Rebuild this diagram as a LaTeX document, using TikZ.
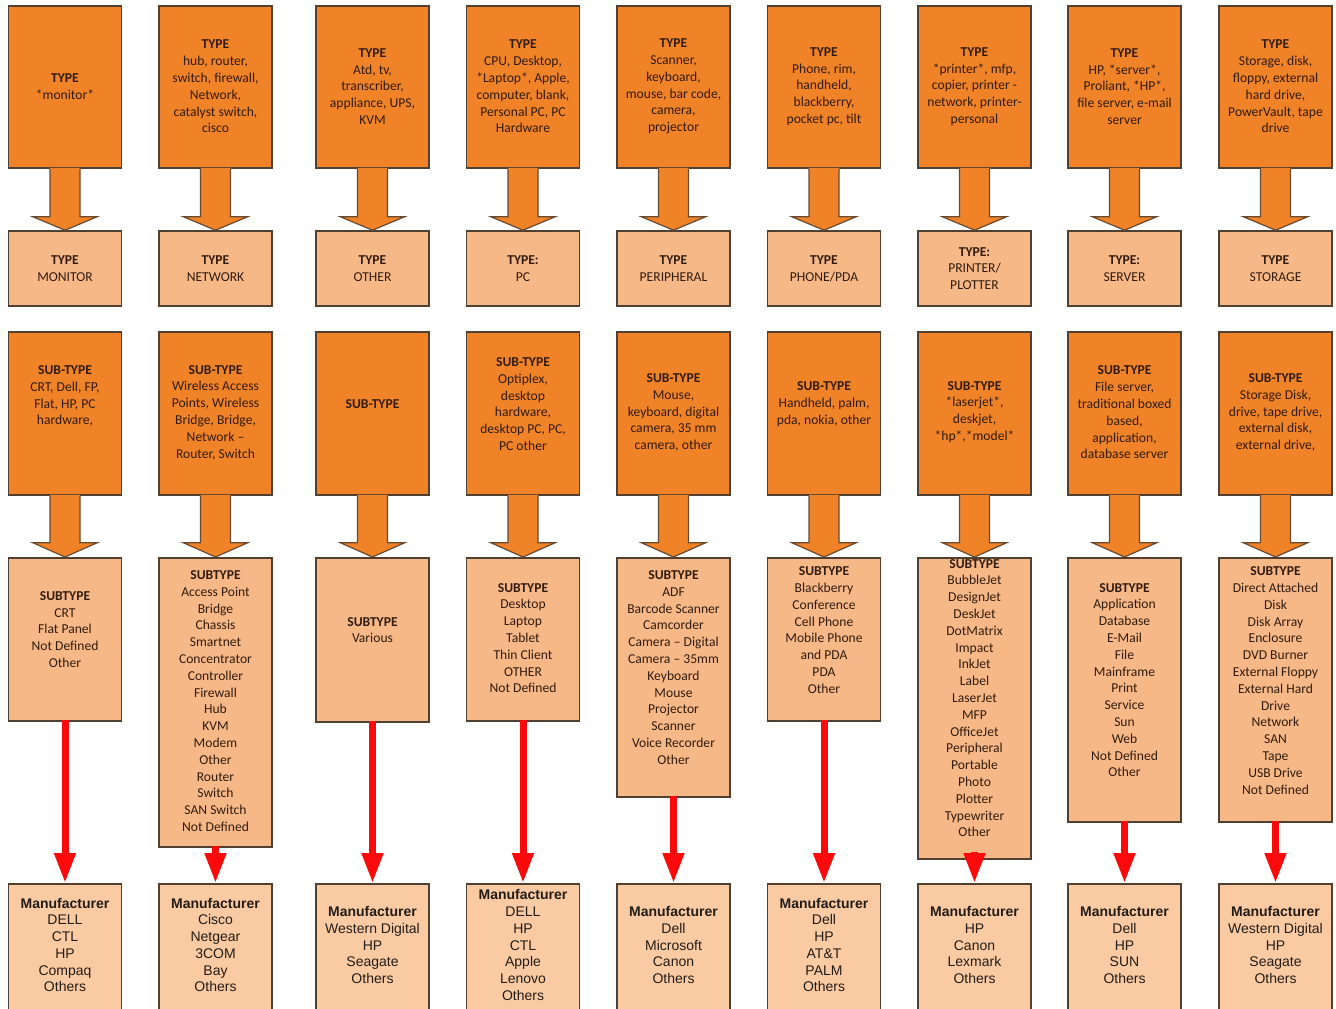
\documentclass[tikz,border=0pt]{standalone}
\usepackage{fontspec}
\setmainfont{Carlito}
\newfontfamily\arialf{Liberation Sans}
\usetikzlibrary{arrows.meta,calc}
\definecolor{dorange}{RGB}{240,130,40}
\definecolor{lorange}{RGB}{247,184,136}
\definecolor{morange}{RGB}{250,203,163}
\definecolor{bordc}{RGB}{80,64,50}
\definecolor{txtc}{RGB}{50,28,14}
\definecolor{mtxtc}{RGB}{35,28,24}
\definecolor{redc}{RGB}{250,10,10}
\tikzset{
  bx/.style={draw=bordc, line width=0.8pt, minimum width=56.5pt, inner sep=0pt},
  topbox/.style={bx, fill=dorange, minimum height=81pt},
  typebox/.style={bx, fill=lorange, minimum height=37.5pt},
  subbox/.style={bx, fill=dorange, minimum height=81.5pt},
  stbox/.style={bx, fill=lorange, anchor=north},
  manbox/.style={bx, fill=morange, minimum height=73pt},
  txt/.style={align=center, font=\fontsize{6.8}{8.4}\selectfont, text=txtc, inner sep=0pt},
  mtxt/.style={align=center, font=\arialf\fontsize{7}{8.35}\selectfont, text=mtxtc, inner sep=0pt},
  bigfill/.style={fill=dorange},
  bigline/.style={draw=bordc!85!dorange, line width=0.6pt, line join=miter},
  redarrow/.style={draw=redc, line width=3.5pt, -{Triangle[width=10pt,length=15pt]}}
}
% #1 from node, #2 to node, #3 shaft length (px), #4 head half width
\newcommand{\fatarrow}[4]{%
  \fill[bigfill] ($(#1.south)+(-15,-1)$) -- ($(#1.south)+(-15,#3)$) -- ($(#1.south)+(-#4,#3)$)
   -- (#2.north) -- ($(#1.south)+(#4,#3)$) -- ($(#1.south)+(15,#3)$) -- ($(#1.south)+(15,-1)$) -- cycle;
  \draw[bigline] ($(#1.south)+(-15,0)$) -- ($(#1.south)+(-15,#3)$) -- ($(#1.south)+(-#4,#3)$)
   -- (#2.north) -- ($(#1.south)+(#4,#3)$) -- ($(#1.south)+(15,#3)$) -- ($(#1.south)+(15,0)$);}
\begin{document}
\begin{tikzpicture}[x=0.5pt,y=-0.5pt]
\useasboundingbox (0,0) rectangle (1336,1008);
\clip (0,0) rectangle (1336,1008);

% ---------- Row 1: TYPE keyword boxes ----------
\node[topbox] (a1) at (65,87) {};
\node[topbox] (a2) at (215.5,87) {};
\node[topbox] (a3) at (372.5,87) {};
\node[topbox] (a4) at (523,87) {};
\node[topbox] (a5) at (673.5,87) {};
\node[topbox] (a6) at (824,87) {};
\node[topbox] (a7) at (974.5,87) {};
\node[topbox] (a8) at (1124.5,87) {};
\node[topbox] (a9) at (1275.5,87) {};
\node[txt] (a1t) at (65,86.5) {\textbf{TYPE}\\*monitor*};
\node[txt] (a2t) at (215.5,86.5) {\textbf{TYPE}\\hub, router,\\switch, firewall,\\Network,\\catalyst switch,\\cisco};
\node[txt] (a3t) at (372.5,86.5) {\textbf{TYPE}\\Atd, tv,\\transcriber,\\appliance, UPS,\\KVM};
\node[txt] (a4t) at (523,86.5) {\textbf{TYPE}\\CPU, Desktop,\\*Laptop*, Apple,\\computer, blank,\\Personal PC, PC\\Hardware};
\node[txt] (a5t) at (673.5,86.5) {\textbf{TYPE}\\Scanner,\\keyboard,\\mouse, bar code,\\camera,\\projector};
\node[txt] (a6t) at (824,86.5) {\textbf{TYPE}\\Phone, rim,\\handheld,\\blackberry,\\pocket pc, tilt};
\node[txt] (a7t) at (974.5,86.5) {\textbf{TYPE}\\*printer*, mfp,\\copier, printer -\\network, printer-\\personal};
\node[txt] (a8t) at (1124.5,86.5) {\textbf{TYPE}\\HP, *server*,\\Proliant, *HP*,\\file server, e-mail\\server};
\node[txt] (a9t) at (1275.5,86.5) {\textbf{TYPE}\\Storage, disk,\\floppy, external\\hard drive,\\PowerVault, tape\\drive};

% ---------- Row 2: TYPE boxes ----------
\node[typebox] (b1) at (65,268.5) {};
\node[typebox] (b2) at (215.5,268.5) {};
\node[typebox] (b3) at (372.5,268.5) {};
\node[typebox] (b4) at (523,268.5) {};
\node[typebox] (b5) at (673.5,268.5) {};
\node[typebox] (b6) at (824,268.5) {};
\node[typebox] (b7) at (974.5,268.5) {};
\node[typebox] (b8) at (1124.5,268.5) {};
\node[typebox] (b9) at (1275.5,268.5) {};
\node[txt] (b1t) at (65,268.5) {\textbf{TYPE}\\MONITOR};
\node[txt] (b2t) at (215.5,268.5) {\textbf{TYPE}\\NETWORK};
\node[txt] (b3t) at (372.5,268.5) {\textbf{TYPE}\\OTHER};
\node[txt] (b4t) at (523,268.5) {\textbf{TYPE:}\\PC};
\node[txt] (b5t) at (673.5,268.5) {\textbf{TYPE}\\PERIPHERAL};
\node[txt] (b6t) at (824,268.5) {\textbf{TYPE}\\PHONE/PDA};
\node[txt] (b7t) at (974.5,268.5) {\textbf{TYPE:}\\PRINTER/\\PLOTTER};
\node[txt] (b8t) at (1124.5,268.5) {\textbf{TYPE:}\\SERVER};
\node[txt] (b9t) at (1275.5,268.5) {\textbf{TYPE}\\STORAGE};

% ---------- Row 3: SUB-TYPE keyword boxes ----------
\node[subbox] (c1) at (65,413.5) {};
\node[subbox] (c2) at (215.5,413.5) {};
\node[subbox] (c3) at (372.5,413.5) {};
\node[subbox] (c4) at (523,413.5) {};
\node[subbox] (c5) at (673.5,413.5) {};
\node[subbox] (c6) at (824,413.5) {};
\node[subbox] (c7) at (974.5,413.5) {};
\node[subbox] (c8) at (1124.5,413.5) {};
\node[subbox] (c9) at (1275.5,413.5) {};
\node[txt] (c1t) at (65,396) {\textbf{SUB-TYPE}\\CRT, Dell, FP,\\Flat, HP, PC\\hardware,};
\node[txt] (c2t) at (215.5,412.5) {\textbf{SUB-TYPE}\\Wireless Access\\Points, Wireless\\Bridge, Bridge,\\Network --\\Router, Switch};
\node[txt] (c3t) at (372.5,404) {\textbf{SUB-TYPE}};
\node[txt] (c4t) at (523,404) {\textbf{SUB-TYPE}\\Optiplex,\\desktop\\hardware,\\desktop PC, PC,\\PC other};
\node[txt] (c5t) at (673.5,412.5) {\textbf{SUB-TYPE}\\Mouse,\\keyboard, digital\\camera, 35 mm\\camera, other};
\node[txt] (c6t) at (824,404) {\textbf{SUB-TYPE}\\Handheld, palm,\\pda, nokia, other};
\node[txt] (c7t) at (974.5,412) {\textbf{SUB-TYPE}\\*laserjet*,\\deskjet,\\*hp*,*model*};
\node[txt] (c8t) at (1124.5,412.5) {\textbf{SUB-TYPE}\\File server,\\traditional boxed\\based,\\application,\\database server};
\node[txt] (c9t) at (1275.5,412.5) {\textbf{SUB-TYPE}\\Storage Disk,\\drive, tape drive,\\external disk,\\external drive,};

% ---------- Row 4: SUBTYPE boxes ----------
\node[stbox, minimum height=81.5pt] (d1) at (65,557) {};
\node[stbox, minimum height=144.5pt] (d2) at (215.5,557) {};
\node[stbox, minimum height=82pt] (d3) at (372.5,557) {};
\node[stbox, minimum height=81.5pt] (d4) at (523,557) {};
\node[stbox, minimum height=119.5pt] (d5) at (673.5,557) {};
\node[stbox, minimum height=81.5pt] (d6) at (824,557) {};
\node[stbox, minimum height=150.5pt] (d7) at (974.5,557) {};
\node[stbox, minimum height=132pt] (d8) at (1124.5,557) {};
\node[stbox, minimum height=132pt] (d9) at (1275.5,557) {};
\node[txt] (d1t) at (65,629.5) {\textbf{SUBTYPE}\\CRT\\Flat Panel\\Not Defined\\Other};
\node[txt] (d2t) at (215.5,701) {\textbf{SUBTYPE}\\Access Point\\Bridge\\Chassis\\Smartnet\\Concentrator\\Controller\\Firewall\\Hub\\KVM\\Modem\\Other\\Router\\Switch\\SAN Switch\\Not Defined};
\node[txt] (d3t) at (372.5,630) {\textbf{SUBTYPE}\\Various};
\node[txt] (d4t) at (523,638) {\textbf{SUBTYPE}\\Desktop\\Laptop\\Tablet\\Thin Client\\OTHER\\Not Defined};
\node[txt] (d5t) at (673.5,667.5) {\textbf{SUBTYPE}\\ADF\\Barcode Scanner\\Camcorder\\Camera -- Digital\\Camera -- 35mm\\Keyboard\\Mouse\\Projector\\Scanner\\Voice Recorder\\Other};
\node[txt] (d6t) at (824,630) {\textbf{SUBTYPE}\\Blackberry\\Conference\\Cell Phone\\Mobile Phone\\and PDA\\PDA\\Other};
\node[txt] (d7t) at (974.5,698) {\textbf{SUBTYPE}\\BubbleJet\\DesignJet\\DeskJet\\DotMatrix\\Impact\\InkJet\\Label\\LaserJet\\MFP\\OfficeJet\\Peripheral\\Portable\\Photo\\Plotter\\Typewriter\\Other};
\node[txt] (d8t) at (1124.5,680) {\textbf{SUBTYPE}\\Application\\Database\\E-Mail\\File\\Mainframe\\Print\\Service\\Sun\\Web\\Not Defined\\Other};
\node[txt] (d9t) at (1275.5,680.5) {\textbf{SUBTYPE}\\Direct Attached\\Disk\\Disk Array\\Enclosure\\DVD Burner\\External Floppy\\External Hard\\Drive\\Network\\SAN\\Tape\\USB Drive\\Not Defined};

% ---------- Row 5: Manufacturer boxes ----------
\node[manbox] (e1) at (65,957) {};
\node[manbox] (e2) at (215.5,957) {};
\node[manbox] (e3) at (372.5,957) {};
\node[manbox] (e4) at (523,957) {};
\node[manbox] (e5) at (673.5,957) {};
\node[manbox] (e6) at (824,957) {};
\node[manbox] (e7) at (974.5,957) {};
\node[manbox] (e8) at (1124.5,957) {};
\node[manbox] (e9) at (1275.5,957) {};
\node[mtxt] (e1t) at (65,945) {\textbf{Manufacturer}\\DELL\\CTL\\HP\\Compaq\\Others};
\node[mtxt] (e2t) at (215.5,945) {\textbf{Manufacturer}\\Cisco\\Netgear\\3COM\\Bay\\Others};
\node[mtxt] (e3t) at (372.5,945) {\textbf{Manufacturer}\\Western Digital\\HP\\Seagate\\Others};
\node[mtxt] (e4t) at (523,945) {\textbf{Manufacturer}\\DELL\\HP\\CTL\\Apple\\Lenovo\\Others};
\node[mtxt] (e5t) at (673.5,945) {\textbf{Manufacturer}\\Dell\\Microsoft\\Canon\\Others};
\node[mtxt] (e6t) at (824,945) {\textbf{Manufacturer}\\Dell\\HP\\AT\&T\\PALM\\Others};
\node[mtxt] (e7t) at (974.5,945) {\textbf{Manufacturer}\\HP\\Canon\\Lexmark\\Others};
\node[mtxt] (e8t) at (1124.5,945) {\textbf{Manufacturer}\\Dell\\HP\\SUN\\Others};
\node[mtxt] (e9t) at (1275.5,945) {\textbf{Manufacturer}\\Western Digital\\HP\\Seagate\\Others};

% ---------- Fat orange arrows ----------
\foreach \i in {1,...,9} {
  \fatarrow{a\i}{b\i}{48}{32}
  \fatarrow{c\i}{d\i}{47}{32}
}

% ---------- Red arrows ----------
\foreach \i in {1,2,3,4,5,6,8,9} {
  \draw[redarrow] ([yshift=1pt]d\i.south) -- (e\i.north);
}
\draw[redarrow] ([yshift=4pt]d7.south) -- (e7.north);
\end{tikzpicture}
\end{document}
